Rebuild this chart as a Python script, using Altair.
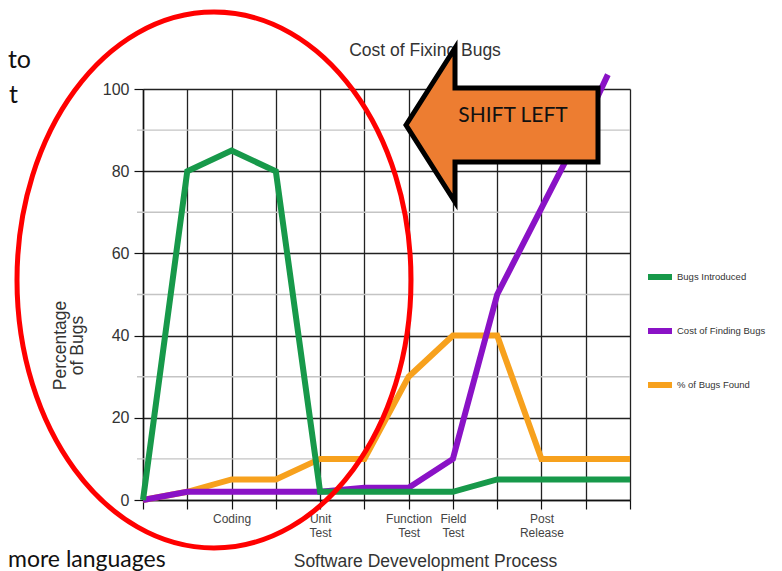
import json
import altair as alt
import pandas as pd

# ---------------- data ----------------
stages = [0, 1, 2, 3, 4, 5, 6, 7, 8, 9, 10, 11]
stage_labels = ["", "", "Coding", "", "Unit\nTest", "", "Function\nTest",
                "Field\nTest", "", "Post\nRelease", "", ""]

bugs_introduced = [0, 80, 85, 80, 2, 2, 2, 2, 5, 5, 5, 5]
cost_x = [0, 1, 2, 3, 4, 5, 6, 7, 8, 9, 10, 10.5]
cost_finding = [0, 2, 2, 2, 2, 3, 3, 10, 50, 71, 92, 103.5]
bugs_found = [0, 2, 5, 5, 10, 10, 30, 40, 40, 10, 10, 10]

series_names = ["Bugs Introduced", "Cost of Finding Bugs", "% of Bugs Found"]
series_colors = ["#17994a", "#8a12c6", "#f7a11d"]

major_y = [0, 20, 40, 60, 80, 100]
minor_y = [10, 30, 50, 70, 90]

chart_title = "Cost of Fixing Bugs"
x_title = "Software Devevelopment Process"
y_title = ["Percentage", "of Bugs"]
arrow_text = "SHIFT LEFT"
slide_fragments = ["to", "t", "more languages"]

# ---------------- tables ----------------
rows = []
for x, v in zip(stages, bugs_introduced):
    rows.append({"x": x, "v": v, "series": series_names[0]})
for x, v in zip(cost_x, cost_finding):
    rows.append({"x": x, "v": v, "series": series_names[1]})
for x, v in zip(stages, bugs_found):
    rows.append({"x": x, "v": v, "series": series_names[2]})
df = pd.DataFrame(rows)
minor_df = pd.DataFrame({"v": minor_y})
one = pd.DataFrame({"k": [0]})

AX_FONT = "Liberation Sans"
W, H = 487, 411

label_arr = json.dumps([s.split("\n") if s else "" for s in stage_labels])

x_scale = alt.Scale(domain=[0, 11], nice=False, zero=False)
y_scale = alt.Scale(domain=[0, 100], nice=False, zero=False)

x_axis = alt.Axis(
    values=stages, labelExpr=f"{label_arr}[datum.value]", labelAngle=0,
    labelOverlap=False, labelFlush=False, labelFont=AX_FONT, labelFontSize=12,
    labelColor="#444", labelPadding=4, labelLineHeight=14,
    tickSize=9, tickColor="#111", tickWidth=1.2,
    domainColor="#111", domainWidth=1.5,
    grid=True, gridColor="#222", gridWidth=1.3, gridOpacity=1,
    title=x_title, titleFont=AX_FONT, titleFontSize=17.5, titleFontWeight="normal",
    titleColor="#333", titleX=282, titleY=66, titleBaseline="alphabetic",
    titleAlign="center",
)
y_axis = alt.Axis(
    values=major_y, labelFont=AX_FONT, labelFontSize=16, labelColor="#333",
    labelPadding=5, labelFlush=False,
    tickSize=9, tickColor="#111", tickWidth=1.2,
    domainColor="#111", domainWidth=1.5,
    grid=True, gridColor="#222", gridWidth=1.3, gridOpacity=1,
    title=y_title, titleFont=AX_FONT, titleFontSize=17.5, titleFontWeight="normal",
    titleColor="#333", titleAngle=-90, titleX=-83, titleY=256,
    titleAlign="center", titleBaseline="middle", titleLineHeight=17,
)
legend = alt.Legend(
    orient="none", legendX=502, legendY=173, title=None, padding=0,
    symbolType="stroke", symbolSize=576, symbolStrokeWidth=6,
    labelFont=AX_FONT, labelFontSize=9.5, labelColor="#333", labelOffset=2,
    rowPadding=27,
)
color = alt.Color("series:N", scale=alt.Scale(domain=series_names, range=series_colors),
                  legend=legend)


def series_layer(name):
    return (
        alt.Chart(df)
        .transform_filter(alt.datum.series == name)
        .mark_line(strokeWidth=6, clip=False)
        .encode(
            x=alt.X("x:Q", scale=x_scale, axis=x_axis),
            y=alt.Y("v:Q", scale=y_scale, axis=y_axis),
            color=color,
            order=alt.Order("x:Q"),
        )
    )


minor_grid = (
    alt.Chart(minor_df)
    .mark_rule(color="#c4c4c4", strokeWidth=1.4)
    .encode(y=alt.Y("v:Q", scale=y_scale, axis=y_axis), x=alt.value(-6), x2=alt.value(W))
)

title_text = alt.Chart(one).mark_text(
    text=chart_title, font=AX_FONT, fontSize=17.5, color="#333", baseline="middle", align="center"
).encode(x=alt.value(282), y=alt.value(-38))

ellipse_path = ("M 197 0 C 197 148 108.8 268 0 268 C -108.8 268 -197 148 -197 0 "
                "C -197 -148 -108.8 -268 0 -268 C 108.8 -268 197 -148 197 0 Z")
ellipse = alt.Chart(one).mark_point(
    shape=ellipse_path, size=4, filled=False, stroke="#ff0000", strokeWidth=5,
    opacity=1, strokeOpacity=1,
).encode(x=alt.value(71), y=alt.value(191))

arrow_path = "M -96 0 L -47 -77 L -47 -37 L 96 -37 L 96 37 L -47 37 L -47 77 Z"
arrow = alt.Chart(one).mark_point(
    shape=arrow_path, size=4, filled=True, fill="#ED7D31", stroke="#000000",
    strokeWidth=5, opacity=1, fillOpacity=1, strokeOpacity=1, strokeJoin="miter",
).encode(x=alt.value(359), y=alt.value(36))

arrow_label = alt.Chart(one).mark_text(
    text=arrow_text, font="Lato", fontSize=21, color="#111", baseline="middle", align="center"
).encode(x=alt.value(370), y=alt.value(27))

frag1 = alt.Chart(one).mark_text(
    text=slide_fragments[0], font="Lato", fontSize=25, color="#111", align="right",
    baseline="alphabetic",
).encode(x=alt.value(-112), y=alt.value(-21))
frag2 = alt.Chart(one).mark_text(
    text=slide_fragments[1], font="Lato", fontSize=25, color="#111", align="left",
    baseline="alphabetic",
).encode(x=alt.value(-134), y=alt.value(14))
frag3 = alt.Chart(one).mark_text(
    text=slide_fragments[2], font="Lato", fontSize=23, color="#111", align="left",
    baseline="alphabetic",
).encode(x=alt.value(-135), y=alt.value(478))

chart = alt.layer(
    minor_grid,
    series_layer(series_names[2]),
    series_layer(series_names[1]),
    series_layer(series_names[0]),
    title_text,
    ellipse,
    arrow,
    arrow_label,
    frag1, frag2, frag3,
).properties(
    width=W, height=H,
    padding={"left": 135, "top": 81, "right": 144, "bottom": 71},
    autosize=alt.AutoSizeParams(type="none"),
    background="white",
).configure_view(stroke=None)

chart.save("out.html", embed_options={"renderer": "svg", "actions": False})
